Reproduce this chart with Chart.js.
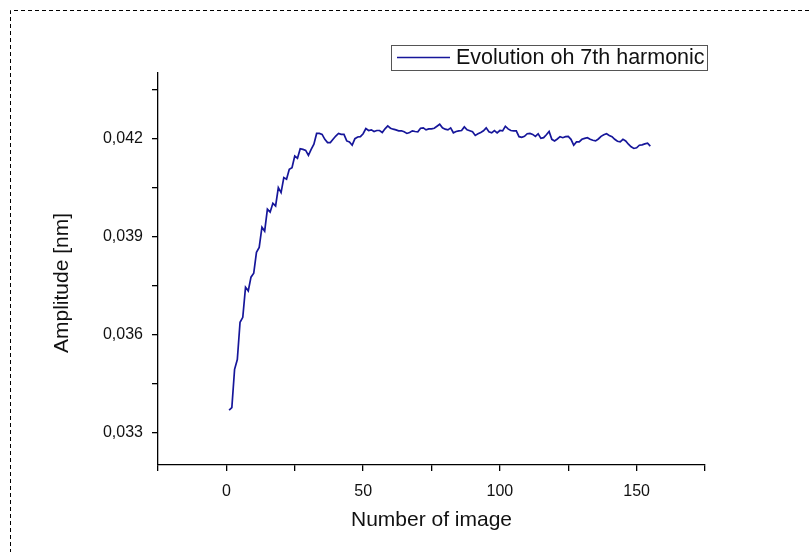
<!DOCTYPE html>
<html>
<head>
<meta charset="utf-8">
<script src="https://cdn.jsdelivr.net/npm/chart.js@4/dist/chart.umd.min.js"></script>
<style>
  html, body { margin: 0; padding: 0; background: #fff; }
  #wrap { width: 810px; height: 552px; }
</style>
</head>
<body>
<div id="wrap"><canvas id="chart" width="810" height="552"></canvas></div>
<script>
// Amplitude of the 7th harmonic for each image (nm)
const amplitudeRise = [
  0.03368, 0.03376, 0.03493, 0.03523, 0.03637, 0.03652, 0.03744, 0.03733, 0.03775, 0.03787,
  0.03851, 0.03866, 0.03928, 0.03916, 0.03983, 0.03974, 0.04001, 0.03993, 0.04049, 0.04034,
  0.04080, 0.04075, 0.04105, 0.04110, 0.04146, 0.04139, 0.04168, 0.04166, 0.04163, 0.04148,
  0.04166, 0.04182, 0.04215, 0.04215, 0.04212, 0.04197, 0.04187, 0.04187, 0.04197, 0.04207,
  0.04215, 0.04212, 0.04212, 0.04192, 0.04189, 0.04179, 0.04199, 0.04204, 0.04205, 0.04214,
  0.04230
];
const amplitudePlateau = [
  0.04224, 0.04226, 0.04221, 0.04224, 0.04224, 0.04218, 0.04229, 0.04238, 0.04231, 0.04228,
  0.04226, 0.04223, 0.04223, 0.04220, 0.04215, 0.04218, 0.04223, 0.04221, 0.04220, 0.04231,
  0.04232, 0.04226, 0.04229, 0.04229, 0.04231, 0.04237, 0.04243, 0.04232, 0.04228, 0.04226,
  0.04232, 0.04217, 0.04221, 0.04223, 0.04224, 0.04235, 0.04226, 0.04223, 0.04220, 0.04209,
  0.04214, 0.04218, 0.04223, 0.04232, 0.04220, 0.04217, 0.04224, 0.04217, 0.04224, 0.04223,
  0.04237, 0.04229, 0.04224, 0.04223, 0.04223, 0.04205, 0.04203, 0.04206, 0.04214, 0.04215,
  0.04212, 0.04206, 0.04214, 0.04200, 0.04202, 0.04211, 0.04221, 0.04197, 0.04192, 0.04198,
  0.04205, 0.04202, 0.04205, 0.04206, 0.04197, 0.04179, 0.04189, 0.04189, 0.04197, 0.04200,
  0.04202, 0.04197, 0.04194, 0.04192, 0.04198, 0.04206, 0.04211, 0.04214, 0.04209, 0.04205,
  0.04197, 0.04191, 0.04189, 0.04197, 0.04192, 0.04182, 0.04174, 0.04169, 0.04171, 0.04179,
  0.04180, 0.04183, 0.04185, 0.04176
];
const firstImage = 1;
const xTicks = [-25, 0, 25, 50, 75, 100, 125, 150, 175];
const xLabels = [0, 50, 100, 150];
const yTicks = [0.033, 0.0345, 0.036, 0.0375, 0.039, 0.0405, 0.042, 0.0435];
const yLabels = [0.033, 0.036, 0.039, 0.042];
const seriesLabel = "Evolution oh 7th harmonic";
const xTitle = "Number of image";
const yTitle = "Amplitude [nm]";

const amplitudes = amplitudeRise.concat(amplitudePlateau);
const points = amplitudes.map((v, i) => ({ x: firstImage + i, y: v }));

const FONT = "'Liberation Sans', Arial, sans-serif";
const LINE_COLOR = "#16169a";

// dashed frame, y title (sits a bit below centre in the original) and boxed legend
const decorPlugin = {
  id: "decor",
  afterDraw(chart) {
    const c = chart.ctx;
    c.save();
    c.strokeStyle = "#000";
    c.lineWidth = 1;
    c.setLineDash([4, 3]);
    c.beginPath();
    c.moveTo(10.5, 560);
    c.lineTo(10.5, 10.5);
    c.lineTo(820, 10.5);
    c.stroke();
    c.setLineDash([]);

    c.fillStyle = "#111";
    c.font = "21px " + FONT;
    c.textAlign = "center";
    c.textBaseline = "middle";
    c.save();
    c.translate(62, 283);
    c.rotate(-Math.PI / 2);
    c.fillText(yTitle, 0, 0);
    c.restore();

    // legend
    const ds = chart.data.datasets[0];
    c.strokeStyle = "#555";
    c.lineWidth = 1;
    c.strokeRect(391.5, 45.5, 316, 25);
    c.strokeStyle = ds.borderColor;
    c.lineWidth = 1.5;
    c.beginPath();
    c.moveTo(397, 57.5);
    c.lineTo(450, 57.5);
    c.stroke();
    c.textAlign = "left";
    c.font = "21.5px " + FONT;
    c.fillText(ds.label, 456, 58);
    c.restore();
  }
};

new Chart(document.getElementById("chart"), {
  type: "line",
  data: {
    datasets: [{
      label: seriesLabel,
      data: points,
      borderColor: LINE_COLOR,
      borderWidth: 1.7,
      pointRadius: 0,
      tension: 0,
      fill: false
    }]
  },
  options: {
    responsive: false,
    animation: false,
    layout: { padding: { left: 0, top: 73, right: 105, bottom: 0 } },
    plugins: {
      legend: { display: false },
      tooltip: { enabled: false }
    },
    scales: {
      x: {
        type: "linear",
        min: -25,
        max: 175,
        afterBuildTicks: axis => { axis.ticks = xTicks.map(v => ({ value: v })); },
        afterFit: axis => { axis.height = 87; },
        border: { display: true, color: "#000", width: 1.3 },
        grid: { drawOnChartArea: false, drawTicks: true, tickLength: 6, color: "#000", lineWidth: 1.3 },
        ticks: {
          color: "#111",
          font: { family: FONT, size: 16 },
          padding: 11,
          maxRotation: 0,
          autoSkip: false,
          callback: v => xLabels.includes(v) ? String(v) : ""
        },
        title: {
          display: true,
          text: xTitle,
          color: "#111",
          font: { family: FONT, size: 21 },
          padding: { top: 0, bottom: 19 }
        }
      },
      y: {
        type: "linear",
        min: 0.032,
        max: 0.044,
        afterBuildTicks: axis => { axis.ticks = yTicks.map(v => ({ value: v })); },
        afterFit: axis => { axis.width = 158; },
        border: { display: true, color: "#000", width: 1.3 },
        grid: { drawOnChartArea: false, drawTicks: true, tickLength: 6, color: "#000", lineWidth: 1.3 },
        ticks: {
          color: "#111",
          font: { family: FONT, size: 16 },
          padding: 9,
          autoSkip: false,
          callback: v => yLabels.some(l => Math.abs(l - v) < 1e-7) ? v.toFixed(3).replace(".", ",") : ""
        },
        title: { display: false }
      }
    }
  },
  plugins: [decorPlugin]
});
</script>
</body>
</html>
